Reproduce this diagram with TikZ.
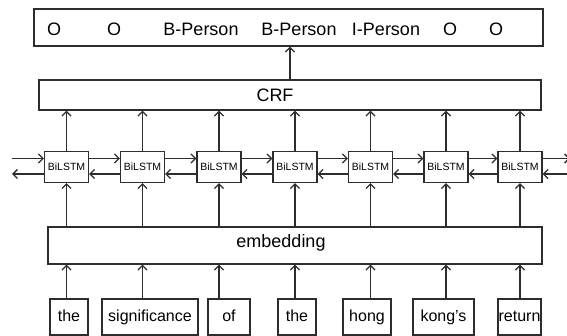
\documentclass[tikz,border=0pt]{standalone}
\usepackage{fontspec}
\setmainfont{Liberation Sans}
\usetikzlibrary{arrows.meta, positioning, calc}
\definecolor{linegray}{RGB}{45, 45, 45}

\begin{document}
\begin{tikzpicture}[x=1pt, y=-1pt,
  box/.style={draw=linegray, line width=1.3pt, inner sep=0pt},
  tag/.style={font=\fontsize{18}{18}\selectfont, text height=13pt, text depth=0pt, inner sep=0pt},
  cell/.style={box, minimum width=44pt, minimum height=31pt, font=\fontsize{10.5}{11}\selectfont},
  word/.style={box, minimum height=36pt, text height=12pt, text depth=4pt, font=\fontsize{16}{16}\selectfont},
  arr/.style={-{Straight Barb[length=4.5pt, width=9pt]}, draw=linegray, line width=1.3pt}]
  \useasboundingbox (0,0) rectangle (567,336);

  % output tags
  \node[box, minimum width=509pt, minimum height=37pt] (tags) at (288.5,27.5) {};
  \foreach \x/\t [count=\i] in {54/O, 114/O, 201/B-Person, 299/B-Person, 386/I-Person, 450/O, 496/O}
    \node[tag] (tag\i) at (\x,29.5) {\t};

  % CRF layer
  \node[box, minimum width=502pt, minimum height=30pt] (crf) at (290,95) {};
  \node[tag] (crflabel) at (275,95.5) {CRF};
  \draw[arr] (crf.north) -- (crf.north |- tags.south);

  % BiLSTM cells
  \foreach \x [count=\i] in {66.5, 142.5, 219, 295, 370.5, 446, 520}
    \node[cell] (b\i) at (\x,167) {BiLSTM};

  % embedding layer
  \node[box, minimum width=494pt, minimum height=37pt] (emb) at (295,245.5) {};
  \node[tag] (emblabel) at (281,241.5) {embedding};

  % input words
  \foreach \x/\w/\t [count=\i] in {69/38/the, 150/96/significance, 229/42/of, 297/38/the, 367/48/hong, 443.5/61/kong's, 519.5/43/return}
    \node[word, minimum width=\w pt] (w\i) at (\x,317) {\t};

  % vertical connections
  \foreach \i in {1,...,7} {
    \draw[arr] (b\i.north) -- (crf.south -| b\i);
    \draw[arr] (emb.north -| b\i) -- (b\i.south);
    \draw[arr] (w\i.north -| b\i) -- (emb.south -| b\i);
  }

  % forward and backward passes
  \coordinate (lin) at (12,158.5);
  \coordinate (lout) at (12,174);
  \coordinate (rout) at (570,158.5);
  \coordinate (rin) at (567,174);
  \draw[arr] (lin) -- (lin -| b1.west);
  \draw[arr] (lout -| b1.west) -- (lout);
  \foreach \i [evaluate=\i as \j using int(\i+1)] in {1,...,6} {
    \draw[arr] ([yshift=8.5pt]b\i.east) -- ([yshift=8.5pt]b\j.west);
    \draw[arr] ([yshift=-7pt]b\j.west) -- ([yshift=-7pt]b\i.east);
  }
  \draw[arr] ([yshift=8.5pt]b7.east) -- (rout);
  \draw[arr] (rin) -- ([yshift=-7pt]b7.east);
\end{tikzpicture}
\end{document}
